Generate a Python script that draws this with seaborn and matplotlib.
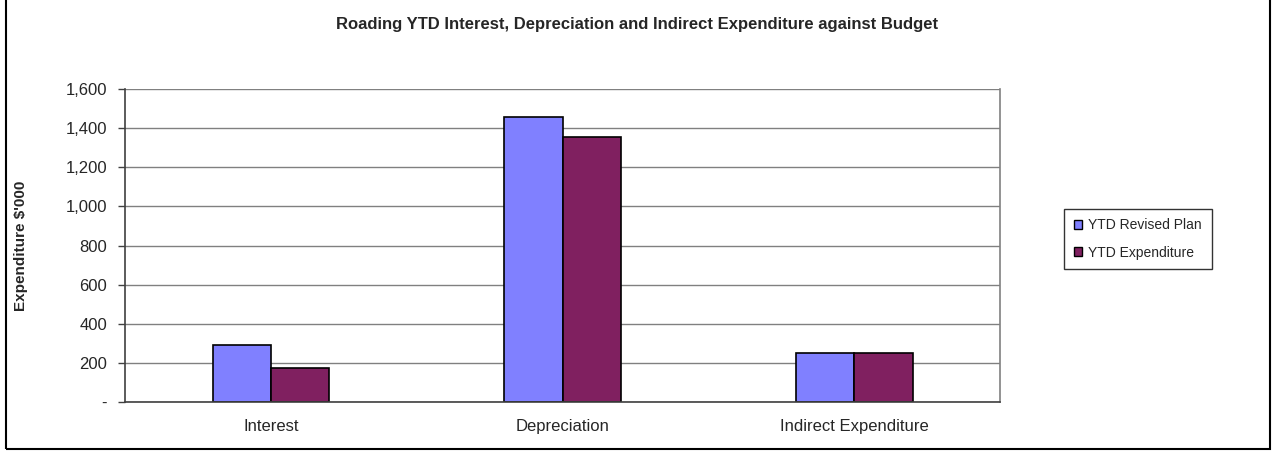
import pandas as pd
import matplotlib.pyplot as plt
import matplotlib.ticker as mticker
from matplotlib.patches import Rectangle
import seaborn as sns

# ---------------------- data ----------------------
categories = ["Interest", "Depreciation", "Indirect Expenditure"]
series_names = ["YTD Revised Plan", "YTD Expenditure"]
plan_values = [290, 1455, 250]
actual_values = [175, 1355, 250]
colors = ["#8080FF", "#802060"]

df = pd.DataFrame({
    "category": categories * 2,
    "series": [series_names[0]] * 3 + [series_names[1]] * 3,
    "value": plan_values + actual_values,
})

# ---------------------- style ----------------------
sns.set_style("white")
plt.rcParams['font.family'] = ['Liberation Sans', 'DejaVu Sans']

fig = plt.figure(figsize=(12.74, 4.51), dpi=100)
ax = fig.add_axes([0.0981, 0.1086, 0.687, 0.694])

sns.barplot(data=df, x="category", y="value", hue="series",
            palette=colors, saturation=1, width=0.4, edgecolor="black",
            linewidth=1.2, ax=ax, legend=False)

ax.set_xlim(-0.5, 2.5)
ax.set_ylim(0, 1600)
ax.yaxis.set_major_locator(mticker.MultipleLocator(200))
ax.yaxis.set_major_formatter(mticker.FuncFormatter(
    lambda v, p: "-" if v == 0 else f"{v:,.0f}"))
ax.grid(axis="y", color="#808080", linewidth=1)
ax.set_axisbelow(True)

ax.set_xticks([0, 1, 2])
ax.set_xticklabels(categories)
ax.set_xticks([-0.5, 0.5, 1.5, 2.5], minor=True)
ax.tick_params(axis="x", which="major", length=0, pad=12, labelsize=12)
ax.tick_params(axis="x", which="minor", length=5, width=1, color="#404040", direction="out")
ax.tick_params(axis="y", length=5, width=1, color="#404040", direction="out",
               left=True, labelsize=12, pad=8)

for s in ["left", "bottom"]:
    ax.spines[s].set_color("#404040")
    ax.spines[s].set_linewidth(1.2)
ax.spines["right"].set_color("#808080")
ax.spines["right"].set_linewidth(1.2)
ax.spines["top"].set_visible(False)

ax.set_xlabel("")
ax.set_ylabel("Expenditure $'000", fontsize=11, fontweight="bold", labelpad=27)

fig.text(0.5, 1 - 24 / 451, "Roading YTD Interest, Depreciation and Indirect Expenditure against Budget",
         ha="center", va="center", fontsize=12, fontweight="bold")

handles = [Rectangle((0, 0), 1, 1, facecolor=c, edgecolor="black", linewidth=1) for c in colors]
leg = fig.legend(handles, series_names, loc="center left",
                 bbox_to_anchor=(1064 / 1274, 1 - 239 / 451),
                 frameon=True, fancybox=False, edgecolor="black", fontsize=10,
                 handlelength=0.6, handleheight=0.6, handletextpad=0.45,
                 labelspacing=0.95, borderpad=0.7, borderaxespad=0)
leg.get_frame().set_linewidth(1)

# outer chart border (top edge runs off the image)
fig.patches.append(Rectangle((6 / 1274, 2 / 451), 1264 / 1274, 460 / 451,
                             transform=fig.transFigure, fill=False,
                             edgecolor="black", linewidth=1.5))

fig.savefig("out.png", dpi=100)
